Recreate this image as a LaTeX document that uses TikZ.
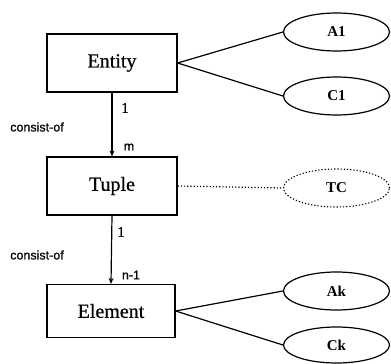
\documentclass[tikz,border=0pt]{standalone}
\usepackage{fontspec}
\setmainfont{Liberation Serif}
\newfontfamily\lblfont[FakeBold=0.8]{Liberation Sans}
\newfontfamily\mainfont[FakeBold=0.6]{Liberation Serif}
\usetikzlibrary{shapes.geometric,arrows.meta}
\tikzset{
  ent/.style={draw, line width=1.2pt, rectangle, minimum width=130pt, minimum height=58pt, inner sep=0pt, font=\mainfont\fontsize{20}{24}\selectfont},
  attr/.style={draw, line width=1.2pt, ellipse, minimum width=106pt, minimum height=38pt, inner sep=0pt, font=\fontsize{15}{17}\selectfont\bfseries},
  dattr/.style={attr, draw=black, dotted, line width=1.1pt},
  conn/.style={line width=1.2pt},
  rel/.style={line width=1.2pt, -{Stealth[length=6pt,width=5pt]}},
  lbl/.style={inner sep=0pt, font=\lblfont\fontsize{12.5}{14}\selectfont},
  card/.style={inner sep=0pt, font=\mainfont\fontsize{15}{17}\selectfont},
}
\begin{document}
\begin{tikzpicture}[x=1pt,y=-1pt]
\useasboundingbox (0,0) rectangle (391,364);
\node[ent] (entity) at (112,63) {Entity};
\node[ent] (tuple) at (112,186) {Tuple};
\node[ent, minimum width=128pt, minimum height=53pt] (element) at (111,311) {Element};
\node[attr] (a1) at (336.5,32) {A1};
\node[attr] (c1) at (336.5,96) {C1};
\node[dattr] (tc) at (336.5,188) {TC};
\node[attr] (ak) at (336.5,291) {Ak};
\node[attr, minimum height=36pt] (ck) at (336.5,345) {Ck};
\draw[conn] (entity.east) -- (a1.west);
\draw[conn] (entity.east) -- (c1.west);
\draw[conn] (element.east) -- (ak.west);
\draw[conn] (element.east) -- (ck.west);
\draw[conn, dotted] (tuple.east) -- (tc.west);
\draw[rel] (entity.south) -- (tuple.north);
\draw[rel] (tuple.south) -- (element.north);
\node[card] (c11) at (125,108) {1};
\node[lbl] (c1m) at (129,147) {m};
\node[lbl] (co1) at (37,127) {consist-of};
\node[card] (c21) at (121,232) {1};
\node[lbl] (c2n) at (131,275) {n-1};
\node[lbl] (co2) at (37,255) {consist-of};
\end{tikzpicture}
\end{document}
